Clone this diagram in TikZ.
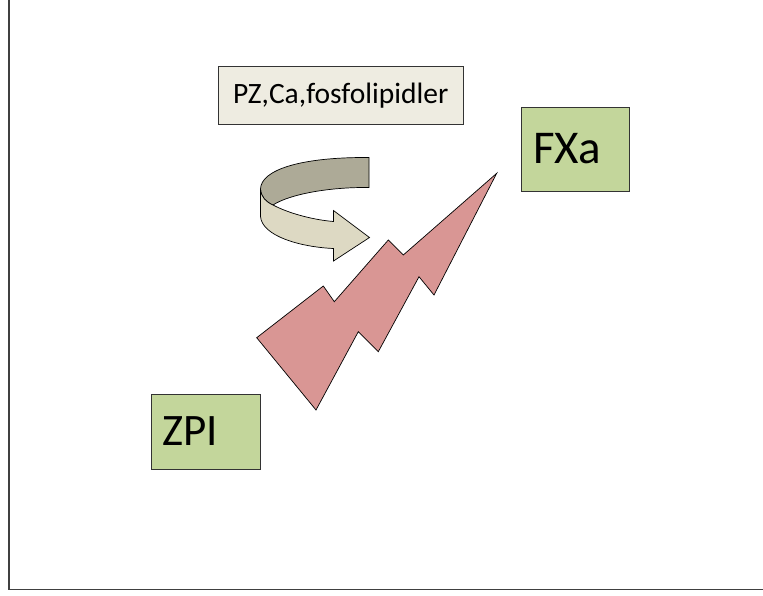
\documentclass[tikz,border=0pt]{standalone}
\usepackage{fontspec}
\setmainfont{Carlito}
\usepackage{xcolor}
\usetikzlibrary{positioning}

\definecolor{crema}{HTML}{EEECE1}
\definecolor{verde}{HTML}{C3D69B}
\definecolor{rayo}{HTML}{D99694}
\definecolor{cara}{HTML}{DDD9C3}
\definecolor{banda}{HTML}{ADAA97}

\begin{document}
\begin{tikzpicture}[x=1pt,y=-1pt,
  caja/.style={draw=black!80, rectangle, line width=0.8pt, inner sep=0pt},
  forma/.style={draw=black, line width=0.7pt, line join=miter}]
\useasboundingbox (0,0) rectangle (763,595);
\clip (0,0) rectangle (763,595);
% Marco
\draw[line width=1.8pt, black!75] (9,-20) rectangle (790,589.5);

% Nodos principales
\node[caja, fill=crema, minimum width=245pt, minimum height=58.5pt,
  font=\fontsize{29.5}{34}\selectfont] (cofactores) at (340.7,95.3) {PZ,Ca,fosfolipidler};
\node[caja, fill=verde, minimum width=108pt, minimum height=84pt, text width=84pt,
  align=left, font=\fontsize{47}{52}\selectfont] (fxa) at (575,149) {FXa};
\node[caja, fill=verde, minimum width=109pt, minimum height=75pt, text width=87pt,
  align=left, font=\fontsize{45}{50}\selectfont] (zpi) at (205.5,431.5) {ZPI};

% Rayo
\draw[forma, fill=rayo] (496.7,173.3) -- (403.3,255) -- (388.3,240) -- (334.3,301.7)
  -- (323.3,286) -- (256.7,337.7) -- (316,410) -- (358.3,331.7) -- (378.3,351.7)
  -- (419,276.7) -- (434,295) -- cycle;

% Flecha curva: banda de atras
\draw[forma, fill=banda] (369,157.5) .. controls (300,157) and (261,170) .. (260.5,189)
  .. controls (261,197) and (266,202) .. (273,205)
  .. controls (290,194) and (330,187) .. (369,187.5) -- cycle;
% Flecha curva: cara
\draw[forma, fill=cara] (260.5,189) .. controls (261,197) and (266,202) .. (273,205)
  .. controls (290,214) and (315,220) .. (333.5,221.5) -- (333.5,210.5)
  -- (369.5,237.5) -- (333.5,261) -- (333.5,248.5)
  .. controls (300,247) and (262,236) .. (260.5,216.5) -- cycle;
\end{tikzpicture}
\end{document}
